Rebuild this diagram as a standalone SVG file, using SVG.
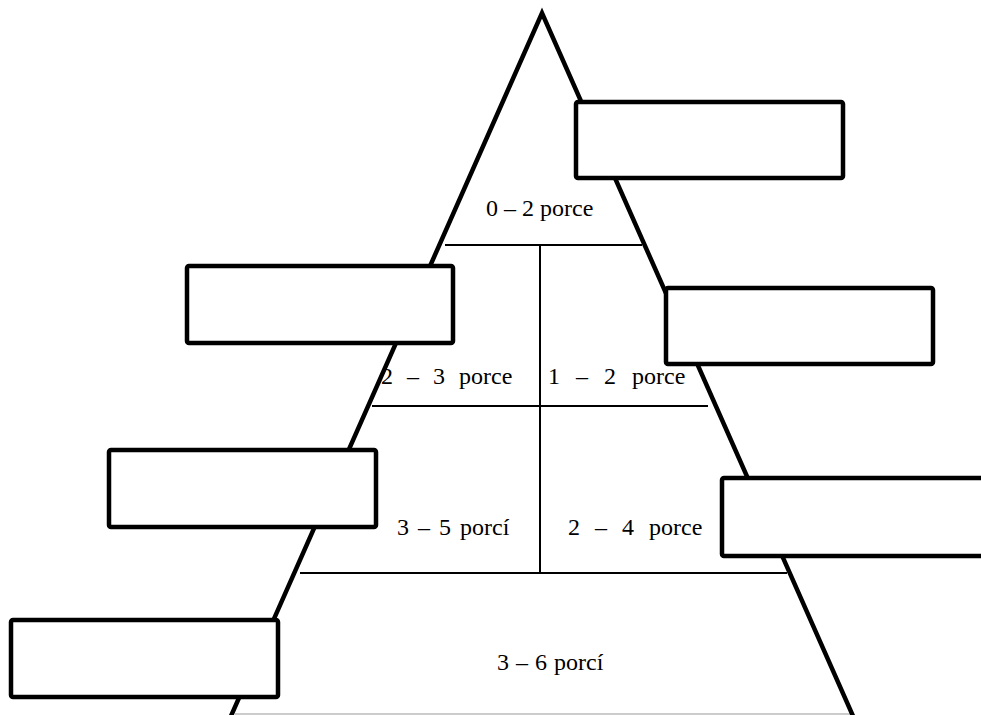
<svg xmlns="http://www.w3.org/2000/svg" width="981" height="715" viewBox="0 0 981 715">
<style>
.side{stroke:#000;stroke-width:4.5;fill:none;stroke-linecap:butt}
.div{stroke:#000;stroke-width:2;fill:none}
.box{fill:#fff;stroke:#000;stroke-width:4.5;stroke-linejoin:round}
.lbl{font-family:"Liberation Serif","Times New Roman",serif;font-size:24px;fill:#000}
</style>
<rect width="981" height="715" fill="#fff"/>
<g id="pyramid">
<line class="div" x1="445" y1="245" x2="642" y2="245"/>
<line class="div" x1="372" y1="406" x2="708" y2="406"/>
<line class="div" x1="300" y1="573" x2="787" y2="573"/>
<line class="div" x1="540" y1="245" x2="540" y2="573"/>
<line x1="235" y1="714" x2="851" y2="714" stroke="#999" stroke-width="1"/>
<polyline class="side" points="231,716 542,13 853,716" stroke-linejoin="miter"/>
</g>
<g id="labels">
<text class="lbl" x="486" y="216" word-spacing="0">0 – 2 porce</text>
<text class="lbl" x="381" y="384" word-spacing="8">2 – 3 porce</text>
<text class="lbl" x="548" y="384" word-spacing="10">1 – 2 porce</text>
<text class="lbl" x="397" y="535" word-spacing="3">3 – 5 porcí</text>
<text class="lbl" x="568" y="535" word-spacing="9">2 – 4 porce</text>
<text class="lbl" x="497" y="670" word-spacing="1">3 – 6 porcí</text>
</g>
<g id="box1"><rect class="box" x="576" y="102" width="267" height="76" rx="2"/></g>
<g id="box2"><rect class="box" x="187" y="266" width="266" height="77" rx="2"/></g>
<g id="box3"><rect class="box" x="666" y="288" width="267" height="76" rx="2"/></g>
<g id="box4"><rect class="box" x="109" y="450" width="267" height="77" rx="2"/></g>
<g id="box5"><rect class="box" x="722" y="478" width="275" height="78" rx="2"/></g>
<g id="box6"><rect class="box" x="11" y="620" width="267" height="77" rx="2"/></g>
</svg>
